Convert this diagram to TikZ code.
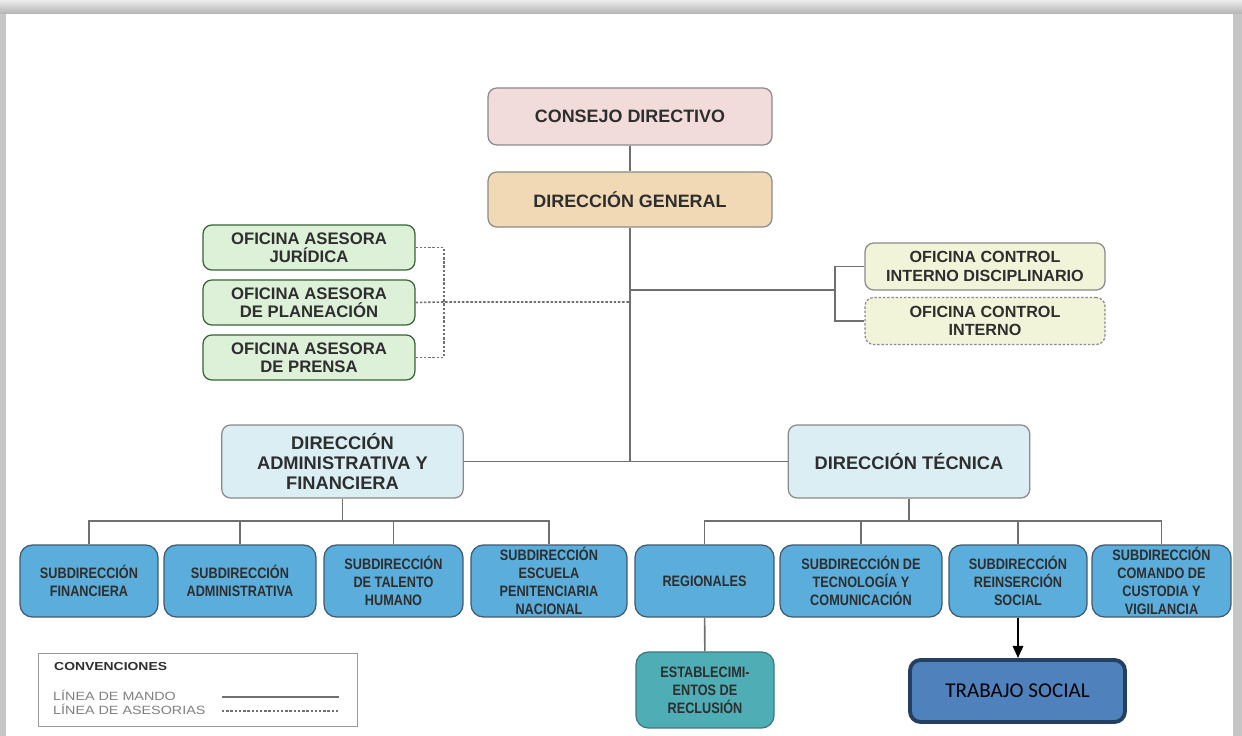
\documentclass[tikz,border=0pt]{standalone}
\usepackage{fontspec}
\setmainfont{Liberation Sans}
\newfontfamily\narrowfont[FakeStretch=0.84]{Liberation Sans}
\newfontfamily\widefont[FakeStretch=1.2]{Liberation Sans}
\newfontfamily\calibrifont{Carlito}
\usetikzlibrary{arrows.meta}
\definecolor{pinkbox}{HTML}{F2DCDB}
\definecolor{tanbox}{HTML}{F0D9B4}
\definecolor{greenbox}{HTML}{DDF0D8}
\definecolor{yellowbox}{HTML}{F2F4DA}
\definecolor{lightblue}{HTML}{DAEEF4}
\definecolor{subblue}{HTML}{5BADDB}
\definecolor{subline}{HTML}{3E5A70}
\definecolor{tealbox}{HTML}{4FADB5}
\definecolor{tealline}{HTML}{3A7880}
\definecolor{tsfill}{HTML}{4F81BD}
\definecolor{tsline}{HTML}{243F60}
\definecolor{boxline}{HTML}{8A8A8A}
\definecolor{boxtext}{HTML}{2E2E2E}
\definecolor{linegray}{HTML}{707070}
\begin{document}
\begin{tikzpicture}[x=0.02cm,y=-0.02cm]
\tikzset{
  box/.style={draw=boxline,line width=0.7pt,rounded corners=5pt,align=center,
    text=boxtext,inner sep=1pt,font=\bfseries\fontsize{10.2}{11.5}\selectfont},
  asesor/.style={box,fill=greenbox,draw=gray!70!green!60!black,minimum width=4.24cm,
    minimum height=0.9cm,font=\bfseries\fontsize{9.5}{10.2}\selectfont},
  control/.style={box,fill=yellowbox,minimum width=4.8cm,minimum height=0.94cm,
    font=\bfseries\fontsize{9.2}{10.4}\selectfont},
  direccion/.style={box,fill=lightblue,minimum width=4.83cm,minimum height=1.46cm,
    font=\bfseries\fontsize{10.4}{11.4}\selectfont},
  sub/.style={box,fill=subblue,draw=subline,rounded corners=7pt,minimum width=#1,
    minimum height=1.44cm,font=\narrowfont\bfseries\fontsize{8.6}{10.2}\selectfont},
  mando/.style={draw=linegray,line width=0.9pt},
  asesoria/.style={draw=linegray,line width=0.9pt,dash pattern=on 1.4pt off 1pt},
  flecha/.style={draw=black,line width=1.2pt,-{Triangle[length=7pt,width=6pt]}}
}
\useasboundingbox (0,0) rectangle (1242,736);
%FRAME
\shade[top color=gray!15,bottom color=gray!60] (0,0) rectangle (1242,14);
\fill[gray!45] (0,14) rectangle (6,736);
\fill[gray!45] (1233,14) rectangle (1242,736);
\fill[white] (6,14) rectangle (1233,736);

%TOP
\node[box,fill=pinkbox,minimum width=5.68cm,minimum height=1.14cm] (cd) at (630,116.5) {CONSEJO DIRECTIVO};
\node[box,fill=tanbox,minimum width=5.68cm,minimum height=1.1cm] (dg) at (630,199.5) {DIRECCIÓN GENERAL};

%ASESORAS
\node[asesor] (oaj) at (309,247.5) {OFICINA ASESORA\\JURÍDICA};
\node[asesor] (oap) at (309,302.5) {OFICINA ASESORA\\DE PLANEACIÓN};
\node[asesor] (oapr) at (309,357.5) {OFICINA ASESORA\\DE PRENSA};

%CONTROL
\node[control] (ocid) at (985,266.5) {OFICINA CONTROL\\INTERNO DISCIPLINARIO};
\node[control,dash pattern=on 1.4pt off 1pt] (oci) at (985,321) {OFICINA CONTROL\\INTERNO};

%DIRECCIONES
\node[direccion] (daf) at (342.5,461.5) {DIRECCIÓN\\ADMINISTRATIVA Y\\FINANCIERA};
\node[direccion] (dt) at (909,461.5) {DIRECCIÓN TÉCNICA};

%SUBDIRECCIONES
\node[sub=2.76cm] (sf) at (89,581) {SUBDIRECCIÓN\\FINANCIERA};
\node[sub=3.04cm] (sa) at (240,581) {SUBDIRECCIÓN\\ADMINISTRATIVA};
\node[sub=2.78cm] (st) at (393.5,581) {SUBDIRECCIÓN\\DE TALENTO\\HUMANO};
\node[sub=3.12cm] (se) at (549,581) {SUBDIRECCIÓN\\ESCUELA\\PENITENCIARIA\\NACIONAL};
\node[sub=2.78cm] (reg) at (704.5,581) {REGIONALES};
\node[sub=3.24cm] (stc) at (861,581) {SUBDIRECCIÓN DE\\TECNOLOGÍA Y\\COMUNICACIÓN};
\node[sub=2.76cm] (rei) at (1018,581) {SUBDIRECCIÓN\\REINSERCIÓN\\SOCIAL};
\node[sub=2.78cm] (scv) at (1161.5,581) {SUBDIRECCIÓN\\COMANDO DE\\CUSTODIA Y\\VIGILANCIA};

\node[sub=2.76cm,fill=tealbox,draw=tealline,minimum height=1.52cm] (est) at (705,690) {ESTABLECIMI-\\ENTOS DE\\RECLUSIÓN};
\node[draw=tsline,fill=tsfill,line width=2.2pt,rounded corners=6pt,minimum width=4.3cm,
  minimum height=1.24cm,font=\calibrifont\fontsize{12}{14}\selectfont] (ts) at (1017.5,691) {TRABAJO SOCIAL};

%COORDINATES
\coordinate (ax) at (444,302);
\coordinate (cx) at (835,290);
\coordinate (lb) at (342.5,521);
\coordinate (rb) at (909,521);

%LINEAS DE MANDO
\draw[mando] (cd) -- (dg);
\draw[mando] (dg.south) -- (dg.south |- daf.east);
\draw[mando] (daf) -- (dt);
\draw[mando] (dg.south |- cx) -- (cx);
\draw[mando] (ocid.west) -| (cx) |- (oci.west);

\draw[mando] (daf) -- (lb);
\draw[mando] (sf.north) -- (sf.north |- lb) -- (se.north |- lb) -- (se.north);
\foreach \n in {sa,st} \draw[mando] (\n.north) -- (\n.north |- lb);

\draw[mando] (dt) -- (rb);
\draw[mando] (reg.north) -- (reg.north |- rb) -- (scv.north |- rb) -- (scv.north);
\foreach \n in {stc,rei} \draw[mando] (\n.north) -- (\n.north |- rb);

\draw[mando] (reg) -- (est);
\draw[flecha] (rei.south) -- (rei.south |- ts.north);

%LINEAS DE ASESORIA
\draw[asesoria] (oaj.east) -| (ax) |- (oapr.east);
\draw[asesoria] (oap.east) -- (ax) -- (ax -| dg.south);

%CONVENCIONES
\node[draw=gray!80,line width=0.8pt,anchor=north west,minimum width=6.38cm,minimum height=1.46cm] (conv) at (38,653) {};
\node[anchor=west,text=boxtext,font=\widefont\bfseries\fontsize{6.6}{8}\selectfont] (convt) at (48,667) {CONVENCIONES};
\node[anchor=west,text=gray,font=\widefont\fontsize{6.8}{8}\selectfont] (lm) at (47,695) {LÍNEA DE MANDO};
\node[anchor=west,text=gray,font=\widefont\fontsize{6.8}{8}\selectfont] (la) at (47,709) {LÍNEA DE ASESORIAS};
\draw[mando,line width=0.7pt] (222,697) -- (339,697);
\draw[asesoria,line width=0.7pt] (222,711) -- (339,711);
\end{tikzpicture}
\end{document}
